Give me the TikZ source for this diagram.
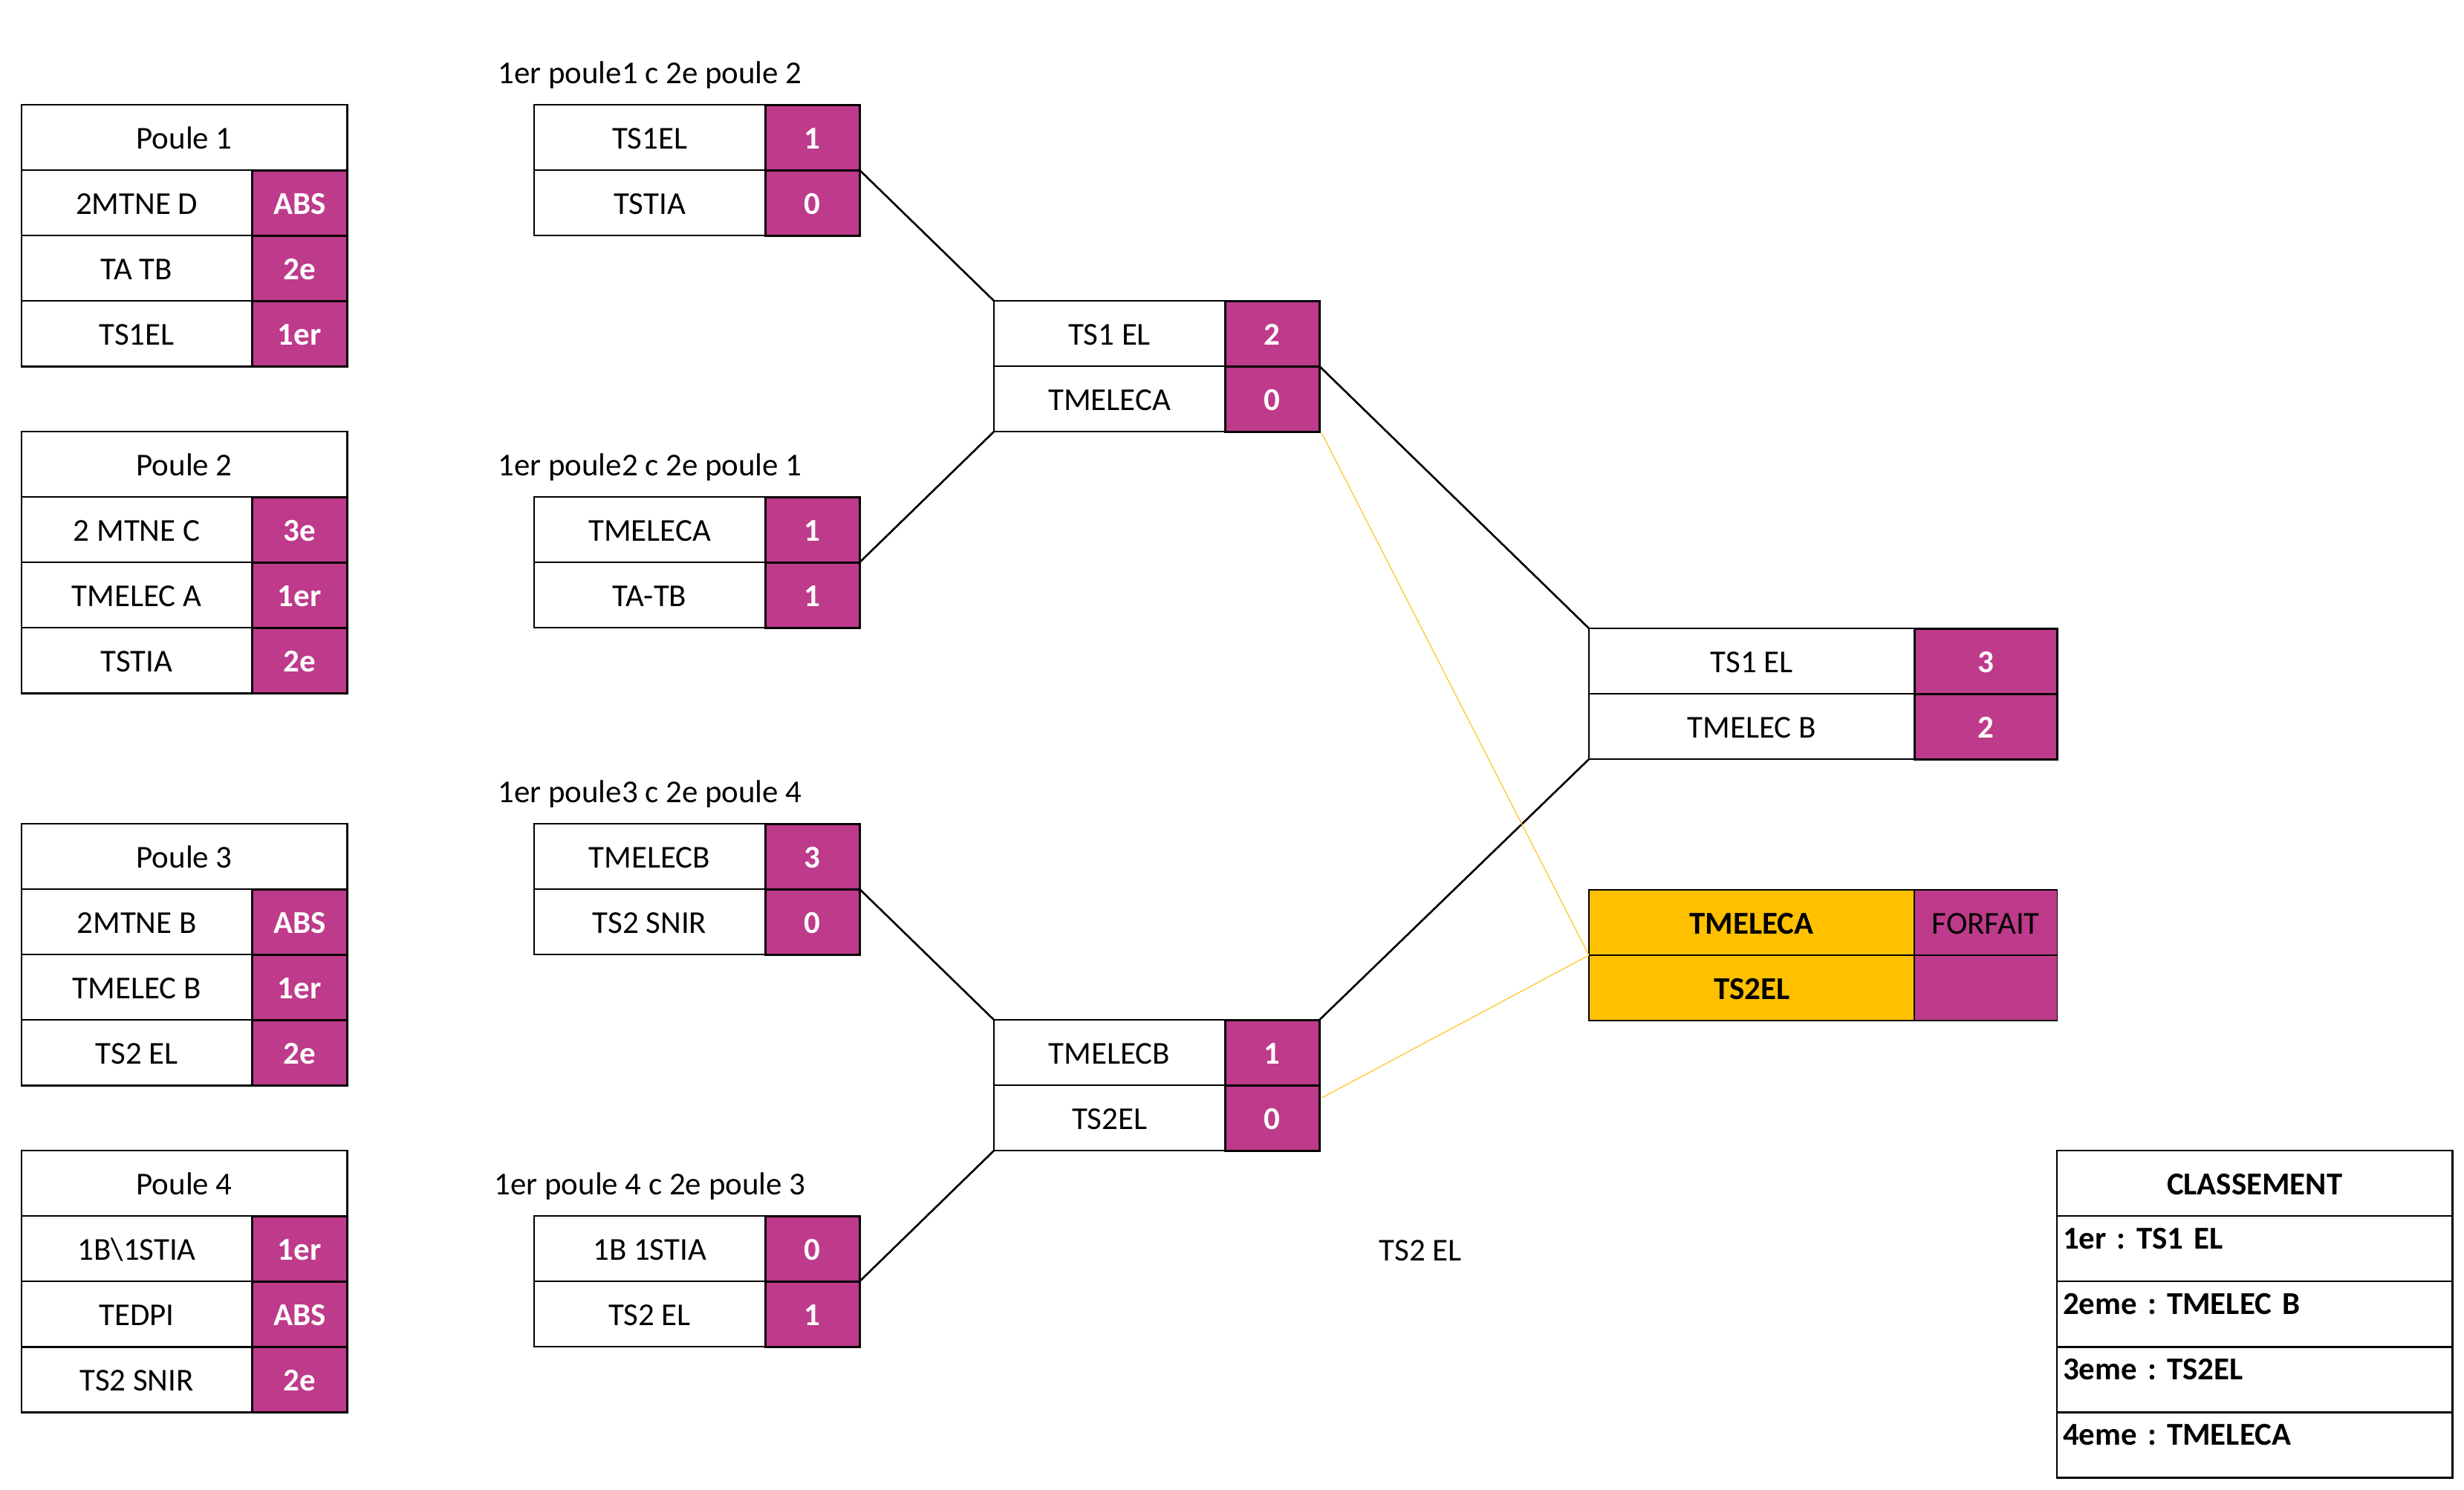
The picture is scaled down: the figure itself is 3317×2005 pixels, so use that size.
\documentclass[tikz,border=0pt]{standalone}
\usepackage{fontspec}
\setmainfont{Carlito}
\frenchspacing
\definecolor{mag}{RGB}{190,58,138}
\definecolor{orng}{RGB}{255,192,0}
\definecolor{yel}{RGB}{255,196,40}
\newcommand\cfont{\fontsize{12.2}{14}\selectfont}
\tikzset{
  cellbase/.style={anchor=north west, inner sep=0pt, outer sep=0pt, minimum height=0.88cm,
    text height=8.6pt, text depth=0pt, font=\cfont},
  wcell/.style={cellbase, draw, fill=white, line width=0.6pt},
  pcell/.style={cellbase, draw, fill=white, line width=0.75pt},
  mcell/.style={cellbase, draw, fill=mag, text=white, line width=0.85pt, font=\cfont\bfseries},
  ocell/.style={cellbase, draw, fill=orng, line width=0.5pt, font=\cfont\bfseries},
  fcell/.style={cellbase, draw, fill=mag, line width=0.5pt},
  crow/.style={anchor=north west, draw, fill=white, line width=0.75pt, minimum height=0.88cm,
    minimum width=5.32cm, text width=5.16cm, inner xsep=0.08cm, inner ysep=0pt, outer sep=0pt,
    align=left, text height=0pt, text depth=0pt, font=\cfont\bfseries},
  lbl/.style={anchor=base, inner sep=0pt, font=\cfont},
  conn/.style={line width=0.75pt, black},
  yline/.style={line width=0.35pt, yel},
}
% poule header
\newcommand\poule[4]{\node[pcell, minimum width=4.38cm] (#1) at (#2,#3) {#4};}
% poule row: name, row above, team, result
\newcommand\prow[4]{%
  \node[pcell, minimum width=3.10cm] (#1-t) at (#2.south west) {#3};
  \node[mcell, minimum width=1.28cm] (#1-r) at (#1-t.north east) {#4};}
% match box: name, x, y, team1, score1, team2, score2
\newcommand\matchbox[7]{%
  \node[wcell, minimum width=3.11cm] (#1-t1) at (#2,#3) {#4};
  \node[wcell, minimum width=3.11cm] (#1-t2) at (#1-t1.south west) {#6};
  \node[mcell, minimum width=1.27cm] (#1-s1) at (#1-t1.north east) {#5};
  \node[mcell, minimum width=1.27cm] (#1-s2) at (#1-t2.north east) {#7};}
\begin{document}
\begin{tikzpicture}[x=0.01cm, y=-0.01cm]
\useasboundingbox (0,0) rectangle (3317,2005);

% ---- Poules ----
\poule{pa}{29}{141}{Poule 1}
\prow{pa1}{pa}{2MTNE D}{ABS}
\prow{pa2}{pa1-t}{TA TB}{2e}
\prow{pa3}{pa2-t}{TS1EL}{1er}

\poule{pb}{29}{581}{Poule 2}
\prow{pb1}{pb}{2 MTNE C}{3e}
\prow{pb2}{pb1-t}{TMELEC A}{1er}
\prow{pb3}{pb2-t}{TSTIA}{2e}

\poule{pc}{29}{1109}{Poule 3}
\prow{pc1}{pc}{2MTNE B}{ABS}
\prow{pc2}{pc1-t}{TMELEC B}{1er}
\prow{pc3}{pc2-t}{TS2 EL}{2e}

\poule{pd}{29}{1549}{Poule 4}
\prow{pd1}{pd}{1B\textbackslash 1STIA}{1er}
\prow{pd2}{pd1-t}{TEDPI}{ABS}
\prow{pd3}{pd2-t}{TS2 SNIR}{2e}

% ---- Round 1 ----
\node[lbl] (l1) at (875,112) {1er poule1 c 2e poule 2};
\matchbox{m1}{719}{141}{TS1EL}{1}{TSTIA}{0}
\node[lbl] (l2) at (875,640) {1er poule2 c 2e poule 1};
\matchbox{m2}{719}{669}{TMELECA}{1}{TA-TB}{1}
\node[lbl] (l3) at (875,1080) {1er poule3 c 2e poule 4};
\matchbox{m3}{719}{1109}{TMELECB}{3}{TS2 SNIR}{0}
\node[lbl] (l4) at (875,1608) {1er poule 4 c 2e poule 3};
\matchbox{m4}{719}{1637}{1B 1STIA}{0}{TS2 EL}{1}

% ---- Semis ----
\matchbox{s1}{1338}{405}{TS1 EL}{2}{TMELECA}{0}
\matchbox{s2}{1338}{1373}{TMELECB}{1}{TS2EL}{0}

% ---- Final ----
\node[wcell, minimum width=4.38cm] (f-t1) at (2139,846) {TS1 EL};
\node[wcell, minimum width=4.38cm] (f-t2) at (f-t1.south west) {TMELEC B};
\node[mcell, minimum width=1.92cm] (f-s1) at (f-t1.north east) {3};
\node[mcell, minimum width=1.92cm] (f-s2) at (f-t2.north east) {2};

% ---- Third place ----
\node[ocell, minimum width=4.38cm] (p3-t1) at (2139,1198) {TMELECA};
\node[ocell, minimum width=4.38cm] (p3-t2) at (p3-t1.south west) {TS2EL};
\node[fcell, minimum width=1.92cm] (p3-s1) at (p3-t1.north east) {FORFAIT};
\node[fcell, minimum width=1.92cm] (p3-s2) at (p3-t2.north east) {};

\node[lbl] (ts2) at (1912,1697) {TS2 EL};

% ---- Classement ----
\node[pcell, minimum width=5.32cm, font=\cfont\bfseries] (cl-h) at (2769,1549) {CLASSEMENT};
\node[crow] (cl-1) at (cl-h.south west) {1er : TS1 EL};
\node[crow] (cl-2) at (cl-1.south west) {2eme : TMELEC B};
\node[crow] (cl-3) at (cl-2.south west) {3eme : TS2EL};
\node[crow] (cl-4) at (cl-3.south west) {4eme : TMELECA};

% ---- Connectors ----
\draw[conn] (m1-s1.south east) -- (s1-t1.north west);
\draw[conn] (m2-s1.south east) -- (s1-t2.south west);
\draw[conn] (m3-s1.south east) -- (s2-t1.north west);
\draw[conn] (m4-s1.south east) -- (s2-t2.south west);
\draw[conn] (s1-s1.south east) -- (f-t1.north west);
\draw[conn] (s2-s1.north east) -- (f-t2.south west);
\coordinate (ys2) at ([xshift=0.03cm, yshift=-0.17cm]s2-s2.north east);
\coordinate (ys1) at ([xshift=0.03cm, yshift=-0.02cm]s1-s2.south east);
\draw[yline] (ys1) -- (p3-t2.north west);
\draw[yline] (ys2) -- (p3-t2.north west);
\end{tikzpicture}
\end{document}
